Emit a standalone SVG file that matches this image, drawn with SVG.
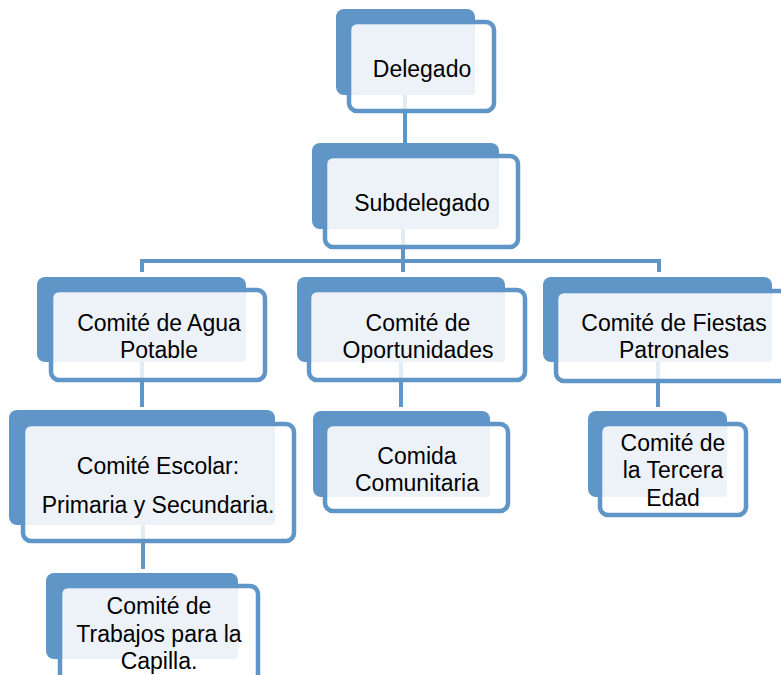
<svg xmlns="http://www.w3.org/2000/svg" width="781" height="675" viewBox="0 0 781 675">
<style>
.back{fill:#6095c8}
.front{fill:#ffffff;fill-opacity:0.82;stroke:#6095c8;stroke-width:4.5}
.light{fill:#edf2f8}
.conn{stroke:#6095c8;stroke-width:4;fill:none}
text{font-family:"Liberation Sans",Arial,sans-serif;font-size:23px;fill:#000;text-anchor:middle}
</style>
<rect width="781" height="675" fill="#ffffff"/>
<g id="connectors">
<line class="conn" x1="405" y1="95" x2="405" y2="146"/>
<line class="conn" x1="403" y1="229" x2="403" y2="272"/>
<polyline class="conn" points="142,272 142,261 659,261 659,272"/>
<line class="conn" x1="142" y1="362" x2="142" y2="407"/>
<line class="conn" x1="401" y1="362" x2="401" y2="407"/>
<line class="conn" x1="658" y1="362" x2="658" y2="407"/>
<line class="conn" x1="143" y1="525" x2="143" y2="569"/>
</g>
<g id="delegado">
<rect class="back" x="336" y="9" width="139" height="86" rx="8"/>
<rect class="front" x="349" y="22" width="145" height="89" rx="8"/>
<rect class="light" x="352" y="25" width="123" height="70" rx="4"/>
<text x="422" y="77">Delegado</text>
</g>
<g id="subdelegado">
<rect class="back" x="312" y="143" width="187" height="86" rx="8"/>
<rect class="front" x="325" y="156" width="193" height="91" rx="8"/>
<rect class="light" x="328" y="159" width="171" height="70" rx="4"/>
<text x="422" y="211">Subdelegado</text>
</g>
<g id="agua">
<rect class="back" x="37" y="277" width="209" height="85" rx="8"/>
<rect class="front" x="51" y="290" width="214" height="90" rx="8"/>
<rect class="light" x="54" y="293" width="192" height="69" rx="4"/>
<text x="159" y="331">Comité de Agua</text>
<text x="159" y="358">Potable</text>
</g>
<g id="oportunidades">
<rect class="back" x="297" y="277" width="208" height="85" rx="8"/>
<rect class="front" x="309" y="290" width="216" height="90" rx="8"/>
<rect class="light" x="312" y="293" width="193" height="69" rx="4"/>
<text x="418" y="331">Comité de</text>
<text x="418" y="358">Oportunidades</text>
</g>
<g id="fiestas">
<rect class="back" x="543" y="277" width="229" height="85" rx="8"/>
<rect class="front" x="556" y="291" width="240" height="90" rx="8"/>
<rect class="light" x="559" y="294" width="213" height="68" rx="4"/>
<text x="674" y="331">Comité de Fiestas</text>
<text x="674" y="358">Patronales</text>
</g>
<g id="escolar">
<rect class="back" x="9" y="410" width="266" height="115" rx="8"/>
<rect class="front" x="23" y="424" width="271" height="117" rx="8"/>
<rect class="light" x="26" y="427" width="249" height="98" rx="4"/>
<text x="158" y="474">Comité Escolar:</text>
<text x="158" y="513">Primaria y Secundaria.</text>
</g>
<g id="comida">
<rect class="back" x="313" y="411" width="177" height="86" rx="8"/>
<rect class="front" x="325" y="424" width="183" height="87" rx="8"/>
<rect class="light" x="328" y="427" width="162" height="70" rx="4"/>
<text x="417" y="464">Comida</text>
<text x="417" y="491">Comunitaria</text>
</g>
<g id="tercera">
<rect class="back" x="588" y="411" width="139" height="86" rx="8"/>
<rect class="front" x="600" y="424" width="146" height="91" rx="8"/>
<rect class="light" x="603" y="427" width="124" height="70" rx="4"/>
<text x="673" y="451">Comité de</text>
<text x="673" y="478">la Tercera</text>
<text x="673" y="506">Edad</text>
</g>
<g id="capilla">
<rect class="back" x="46" y="573" width="192" height="86" rx="8"/>
<rect class="front" x="60" y="586" width="198" height="100" rx="8"/>
<rect class="light" x="63" y="589" width="175" height="70" rx="4"/>
<text x="159" y="614">Comité de</text>
<text x="159" y="642">Trabajos para la</text>
<text x="159" y="669">Capilla.</text>
</g>
</svg>
